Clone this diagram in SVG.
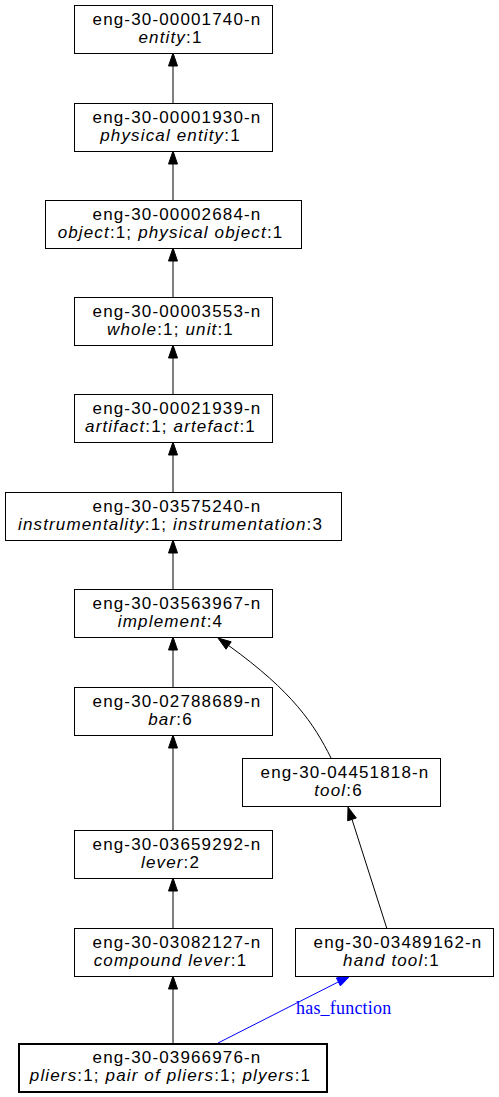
<svg xmlns="http://www.w3.org/2000/svg" width="499" height="1097" viewBox="0 0 499 1097">
<style>
.n rect{fill:#fff;stroke:#000;stroke-width:1}
.n text{font-family:"Liberation Sans",Arial,sans-serif;font-size:17px;letter-spacing:1.15px;text-anchor:middle;fill:#000}
.n .i{font-style:italic}
.e line,.e path{fill:none;stroke:#000;stroke-width:1}
.e polygon{fill:#000;stroke:#000;stroke-width:1}
.e .b{stroke:#00f}
.e polygon.b{fill:#00f}
.lbl{font-family:"Liberation Serif","Times New Roman",serif;font-size:18px;letter-spacing:0.2px;fill:#00f}
</style>
<rect width="499" height="1097" fill="#fff"/>
<g id="edges" class="e">
<line x1="173" y1="103" x2="173" y2="66"/><polygon points="173,53 168.5,66 177.5,66"/>
<line x1="173" y1="200" x2="173" y2="164"/><polygon points="173,151 168.5,164 177.5,164"/>
<line x1="173" y1="297" x2="173" y2="261"/><polygon points="173,248 168.5,261 177.5,261"/>
<line x1="173" y1="394" x2="173" y2="358"/><polygon points="173,345 168.5,358 177.5,358"/>
<line x1="173" y1="492" x2="173" y2="455"/><polygon points="173,442 168.5,455 177.5,455"/>
<line x1="173" y1="589" x2="173" y2="553"/><polygon points="173,540 168.5,553 177.5,553"/>
<line x1="173" y1="687" x2="173" y2="650"/><polygon points="173,637 168.5,650 177.5,650"/>
<line x1="173" y1="830" x2="173" y2="748"/><polygon points="173,735 168.5,748 177.5,748"/>
<line x1="173" y1="928" x2="173" y2="891"/><polygon points="173,878 168.5,891 177.5,891"/>
<line x1="173" y1="1043" x2="173" y2="989"/><polygon points="173,976 168.5,989 177.5,989"/>
<path d="M331,758 C314,724 293,692 228.6,645.5"/><polygon points="218,638 231.2,641.8 226,649.2"/>
<line x1="386.7" y1="928" x2="352" y2="819.4"/><polygon points="348,807 356.3,818 347.7,820.8"/>
<line class="b" x1="218" y1="1043" x2="338.4" y2="981.9"/><polygon class="b" points="350,976 340.4,985.9 336.4,977.9"/>
<text class="lbl" x="296" y="1014">has_function</text>
</g>
<g id="n1" class="n"><rect x="74.5" y="5.5" width="198" height="48"/><text x="177" y="25">eng-30-00001740-n</text><text x="170.5" y="43"><tspan class="i">entity</tspan>:1</text></g>
<g id="n2" class="n"><rect x="74.5" y="103.5" width="198" height="48"/><text x="177" y="123">eng-30-00001930-n</text><text x="170.5" y="141"><tspan class="i">physical entity</tspan>:1</text></g>
<g id="n3" class="n"><rect x="45.5" y="200.5" width="256" height="48"/><text x="177" y="220">eng-30-00002684-n</text><text x="170.5" y="238"><tspan class="i">object</tspan>:1; <tspan class="i">physical object</tspan>:1</text></g>
<g id="n4" class="n"><rect x="74.5" y="297.5" width="198" height="48"/><text x="177" y="317">eng-30-00003553-n</text><text x="170.5" y="335"><tspan class="i">whole</tspan>:1; <tspan class="i">unit</tspan>:1</text></g>
<g id="n5" class="n"><rect x="74.5" y="394.5" width="198" height="48"/><text x="177" y="414">eng-30-00021939-n</text><text x="170.5" y="432"><tspan class="i">artifact</tspan>:1; <tspan class="i">artefact</tspan>:1</text></g>
<g id="n6" class="n"><rect x="5.5" y="492.5" width="336" height="48"/><text x="177" y="512">eng-30-03575240-n</text><text x="170.5" y="530"><tspan class="i">instrumentality</tspan>:1; <tspan class="i">instrumentation</tspan>:3</text></g>
<g id="n7" class="n"><rect x="74.5" y="589.5" width="198" height="48"/><text x="177" y="609">eng-30-03563967-n</text><text x="170.5" y="627"><tspan class="i">implement</tspan>:4</text></g>
<g id="n8" class="n"><rect x="74.5" y="687.5" width="198" height="48"/><text x="177" y="707">eng-30-02788689-n</text><text x="170.5" y="725"><tspan class="i">bar</tspan>:6</text></g>
<g id="n9" class="n"><rect x="242.5" y="758.5" width="198" height="48"/><text x="345" y="778">eng-30-04451818-n</text><text x="338.5" y="796"><tspan class="i">tool</tspan>:6</text></g>
<g id="n10" class="n"><rect x="74.5" y="830.5" width="198" height="48"/><text x="177" y="850">eng-30-03659292-n</text><text x="170.5" y="868"><tspan class="i">lever</tspan>:2</text></g>
<g id="n11" class="n"><rect x="74.5" y="928.5" width="198" height="48"/><text x="177" y="948">eng-30-03082127-n</text><text x="170.5" y="966"><tspan class="i">compound lever</tspan>:1</text></g>
<g id="n12" class="n"><rect x="295.5" y="928.5" width="198" height="48"/><text x="398" y="948">eng-30-03489162-n</text><text x="391.5" y="966"><tspan class="i">hand tool</tspan>:1</text></g>
<g id="n13" class="n"><rect x="19" y="1044" width="308" height="48" style="stroke-width:2"/><text x="177" y="1063">eng-30-03966976-n</text><text x="170.5" y="1081"><tspan class="i">pliers</tspan>:1; <tspan class="i">pair of pliers</tspan>:1; <tspan class="i">plyers</tspan>:1</text></g>
</svg>
